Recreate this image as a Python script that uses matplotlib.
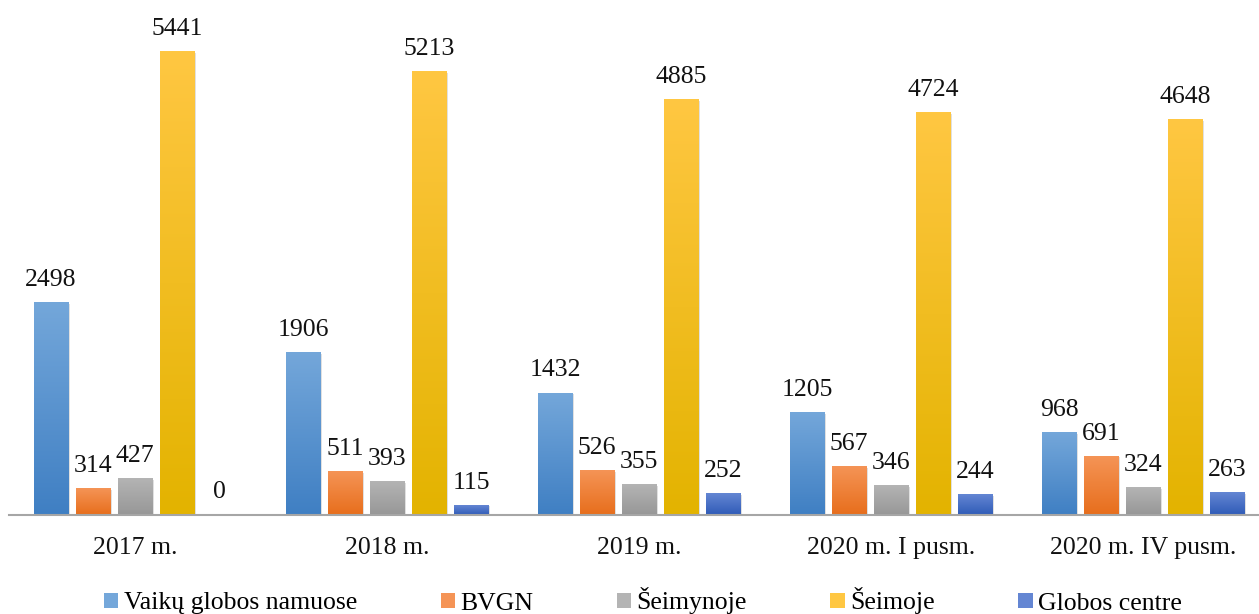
import numpy as np
import matplotlib.pyplot as plt
from matplotlib.colors import LinearSegmentedColormap
from matplotlib.patches import Patch

plt.rcParams['font.family'] = ['Liberation Serif', 'DejaVu Serif']

periods = ['2017 m.', '2018 m.', '2019 m.', '2020 m. I pusm.', '2020 m. IV pusm.']
series = ['Vaikų globos namuose', 'BVGN', 'Šeimynoje', 'Šeimoje', 'Globos centre']
vaiku_globos_namuose = [2498, 1906, 1432, 1205, 968]
bvgn = [314, 511, 526, 567, 691]
seimynoje = [427, 393, 355, 346, 324]
seimoje = [5441, 5213, 4885, 4724, 4648]
globos_centre = [0, 115, 252, 244, 263]
values = [vaiku_globos_namuose, bvgn, seimynoje, seimoje, globos_centre]

# (top, bottom) gradient colours per series
grads = [('#74a7da', '#3f7fc3'),
         ('#f59456', '#e76e1c'),
         ('#b4b4b4', '#979797'),
         ('#ffc742', '#e3b300'),
         ('#6486d3', '#2f5bb7')]

fig = plt.figure(figsize=(12.59, 6.14), dpi=100)
ax = fig.add_axes([9 / 1259, 99 / 614, 1250 / 1259, 510.6 / 614])

x = np.arange(len(periods))
step = 0.1667
width = 0.135
handles = []
for i, (name, vals, (c_top, c_bot)) in enumerate(zip(series, values, grads)):
    pos = x + (i - 2) * step
    bars = ax.bar(pos, vals, width, color=c_bot, zorder=2, linewidth=0)
    cmap = LinearSegmentedColormap.from_list(name, [c_bot, c_top])
    grad = np.linspace(0, 1, 256).reshape(-1, 1)
    for b in bars:
        bx, bw, bh = b.get_x(), b.get_width(), b.get_height()
        if bh <= 0:
            continue
        # soft shadow
        ax.bar(bx + bw / 2 + 0.006, bh, bw, bottom=-15, color='#000000', alpha=0.12,
               zorder=1, linewidth=0)
        ax.imshow(grad, extent=[bx, bx + bw, 0, bh], origin='lower', cmap=cmap,
                  aspect='auto', zorder=3)
    for p, v in zip(pos, vals):
        ax.annotate(str(v), (p, v), xytext=(0, 12), textcoords='offset points',
                    ha='center', va='baseline', fontsize=18.5, color='#111111', zorder=4)
    handles.append(Patch(facecolor=c_top, edgecolor='none', label=name))

ax.set_xlim(-0.5, -0.5 + 1250 / 252)
ax.set_ylim(0, 6000)
ax.set_xticks(x)
ax.set_xticklabels(periods, fontsize=18.5, color='#111111')
ax.tick_params(axis='x', length=0, pad=15.5)
ax.set_yticks([])
for s in ['top', 'right', 'left']:
    ax.spines[s].set_visible(False)
ax.spines['bottom'].set_color('#a6a6a6')
ax.spines['bottom'].set_linewidth(1.5)
ax.spines['bottom'].set_zorder(5)

fig.legend(handles=handles, loc='center', bbox_to_anchor=(643 / 1259, 1 - 601 / 614),
           ncol=5, frameon=False, fontsize=18.5, handlelength=0.55, handleheight=0.55,
           handletextpad=0.22, columnspacing=3.25, borderpad=0, borderaxespad=0)

fig.savefig('out.png', dpi=100)
